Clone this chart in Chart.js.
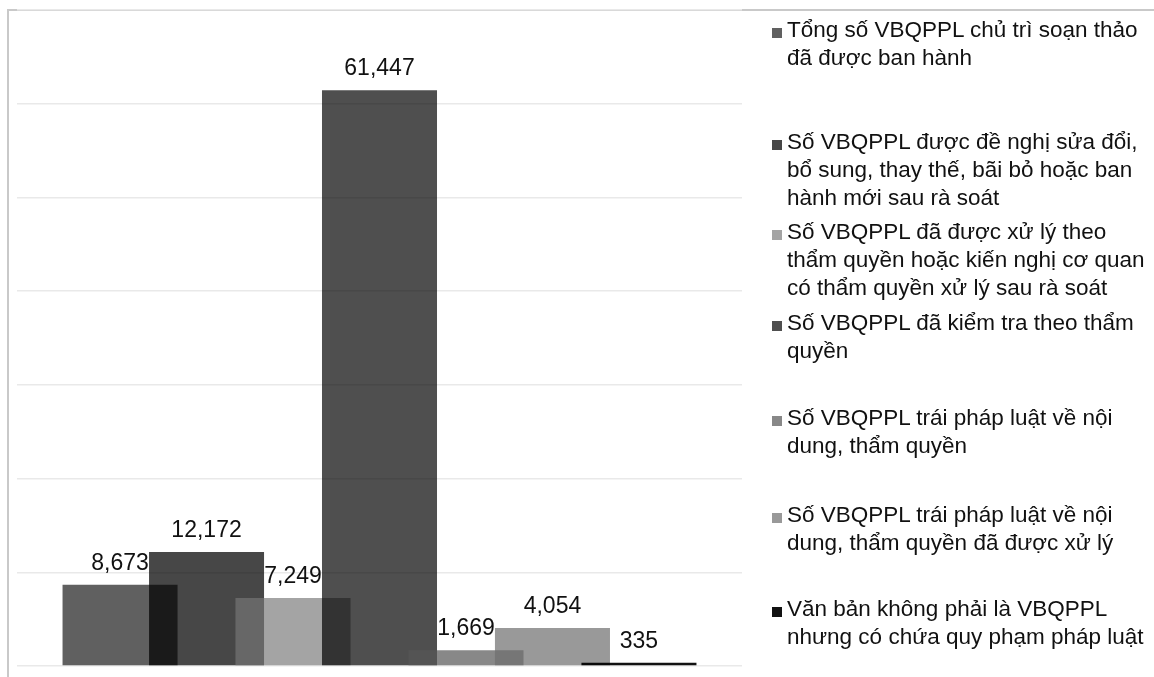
<!DOCTYPE html>
<html>
<head>
<meta charset="utf-8">
<script src="https://cdn.jsdelivr.net/npm/chart.js@4.4.1/dist/chart.umd.min.js"></script>
<style>
    body { margin: 0; background: #fff; }
    #wrap { position: relative; width: 1154px; height: 677px; overflow: hidden; font-family: "Liberation Sans", Arial, sans-serif; }
    #frame { position: absolute; left: 7px; top: 9px; right: -10px; bottom: -10px;
             border-left: 2px solid #c9c9c9; border-top: 2px solid #c9c9c9; }
    #chart { position: absolute; left: 0; top: 0; }
    #legend { position: absolute; left: 0; top: 0; width: 1154px; height: 677px; }
    .item { position: absolute; left: 787px; font-size: 22.5px; line-height: 28px; color: #111; white-space: nowrap; }
    .item i { position: absolute; left: -15px; top: 12px; width: 10px; height: 10px; }
</style>
</head>
<body>
<div id="wrap">
    <div id="frame"></div>
    <canvas id="chart" width="1154" height="677"></canvas>
    <div id="legend"></div>
</div>
<script>
const categories = [''];

const series_labels = [
    ['Tổng số VBQPPL chủ trì soạn thảo', 'đã được ban hành'],
    ['Số VBQPPL được đề nghị sửa đổi,', 'bổ sung, thay thế, bãi bỏ hoặc ban', 'hành mới sau rà soát'],
    ['Số VBQPPL đã được xử lý theo', 'thẩm quyền hoặc kiến nghị cơ quan', 'có thẩm quyền xử lý sau rà soát'],
    ['Số VBQPPL đã kiểm tra theo thẩm', 'quyền'],
    ['Số VBQPPL trái pháp luật về nội', 'dung, thẩm quyền'],
    ['Số VBQPPL trái pháp luật về nội', 'dung, thẩm quyền đã được xử lý'],
    ['Văn bản không phải là VBQPPL', 'nhưng có chứa quy phạm pháp luật']
];

const series_values = [8673, 12172, 7249, 61447, 1669, 4054, 335];

const bar_colors = [
    'rgba(28, 28, 28, 0.7)',
    'rgba(0, 0, 0, 0.72)',
    'rgba(119, 119, 119, 0.67)',
    'rgba(0, 0, 0, 0.69)',
    'rgba(85, 85, 85, 0.7)',
    'rgba(110, 110, 110, 0.7)',
    'rgba(0, 0, 0, 0.93)'
];

// top of each legend entry
const legend_tops = [16, 128, 218, 309, 404, 501, 595];

const datasets = series_values.map((v, i) => {
    return {
        label: series_labels[i].join(' '),
        data: [v],
        backgroundColor: bar_colors[i],
        borderWidth: 0,
        categoryPercentage: 0.835,
        barPercentage: 1.33
    };
});

// draw first series at the bottom, last series on top
const draw_in_order = {
    id: 'draw_in_order',
    beforeDatasetsDraw(chart) {
        for (let i = 0; i < chart.data.datasets.length; i++) {
            chart.getDatasetMeta(i).controller.draw();
        }
        return false;
    }
};

const value_labels = {
    id: 'value_labels',
    afterDraw(chart) {
        const ctx = chart.ctx;
        ctx.save();
        ctx.font = '23px "Liberation Sans", Arial, sans-serif';
        ctx.fillStyle = '#111';
        ctx.textAlign = 'center';
        ctx.textBaseline = 'alphabetic';
        chart.data.datasets.forEach((ds, i) => {
            const bar = chart.getDatasetMeta(i).data[0];
            ctx.fillText(ds.data[0].toLocaleString('en-US'), bar.x, bar.y - 15);
        });
        ctx.restore();
    }
};

const config = {
    type: 'bar',
    data: {
        labels: categories,
        datasets: datasets
    },
    options: {
        responsive: false,
        animation: false,
        plugins: {
            legend: { display: false },
            tooltip: { enabled: false }
        },
        layout: {
            padding: { left: 17, top: 10, right: 412, bottom: 11 }
        },
        scales: {
            x: { display: false },
            y: {
                min: 0,
                max: 70000,
                ticks: { display: false, stepSize: 10000 },
                grid: { color: '#e9e9e9', lineWidth: 1.5, drawTicks: false },
                border: { display: false }
            }
        }
    },
    plugins: [draw_in_order, value_labels]
};

const bar_chart = new Chart(document.getElementById('chart'), config);

// legend with the original line breaks
const legend = document.getElementById('legend');
series_labels.forEach((lines, i) => {
    const item = document.createElement('div');
    item.className = 'item';
    item.style.top = legend_tops[i] + 'px';
    const box = document.createElement('i');
    box.style.background = bar_colors[i];
    item.appendChild(box);
    lines.forEach((line, j) => {
        if (j > 0) item.appendChild(document.createElement('br'));
        item.appendChild(document.createTextNode(line));
    });
    legend.appendChild(item);
});
</script>
</body>
</html>
